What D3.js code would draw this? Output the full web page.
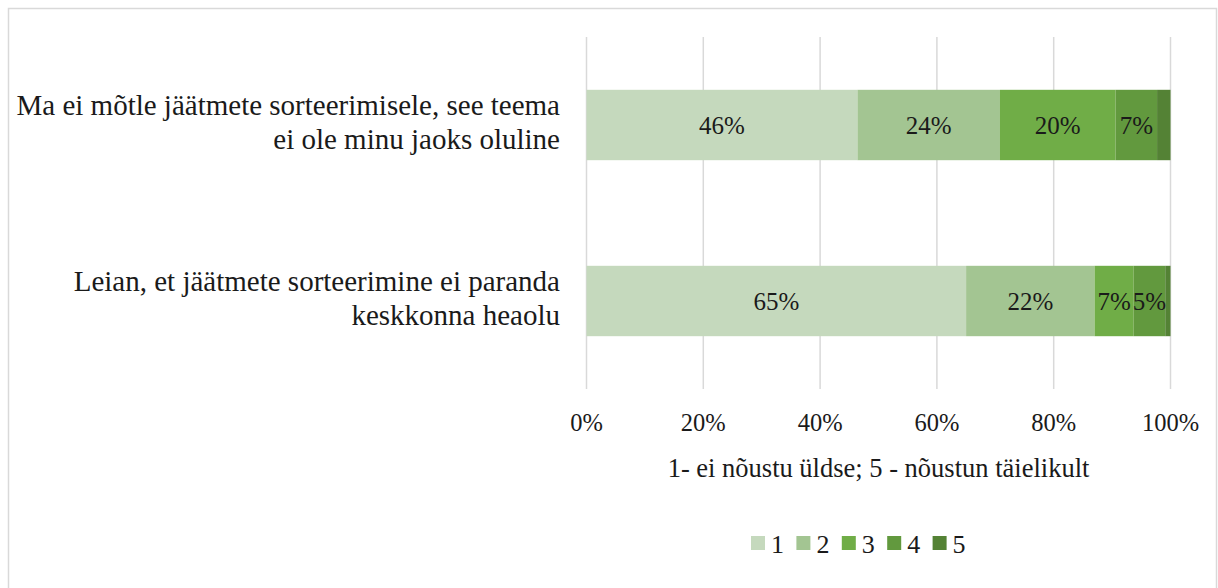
<!DOCTYPE html>
<html>
<head>
<meta charset="utf-8">
<script src="https://cdnjs.cloudflare.com/ajax/libs/d3/7.8.5/d3.min.js"></script>
<style>
  body { margin: 0; background: #fff; }
  svg text { font-family: "Liberation Serif", "Times New Roman", serif; fill: #1a1a1a; }
</style>
</head>
<body>
<div id="chart"></div>
<script>
// categories (top to bottom), each label split into lines
var categories = [
  ["Ma ei mõtle jäätmete sorteerimisele, see teema", "ei ole minu jaoks oluline"],
  ["Leian, et jäätmete sorteerimine ei paranda", "keskkonna heaolu"]
];
var seriesNames = ["1", "2", "3", "4", "5"];
// share of answers (%) per category, one entry per series
var values1 = [46.4, 24.4, 19.8, 7.1, 2.3];
var values2 = [65.0, 22.0, 6.7, 5.4, 0.9];
var xTicks = [0, 20, 40, 60, 80, 100];
var axisTitle = "1- ei nõustu üldse; 5 - nõustun täielikult";
var colors = ["#c5d9bd", "#a3c592", "#70ad47", "#62993e", "#548235"];

var W = 1218, H = 588;
var layout = { left: 586.5, right: 1170.5, top: 37, bottom: 389 };

var svg = d3.select("#chart").append("svg").attr("width", W).attr("height", H);

// outer border
svg.append("rect")
  .attr("x", 8.5).attr("y", 8.5).attr("width", 1208).attr("height", 600)
  .attr("fill", "none").attr("stroke", "#d9d9d9").attr("stroke-width", 1.5);

var x = d3.scaleLinear().domain([0, 100]).range([layout.left, layout.right]);
var y = d3.scaleBand().domain(d3.range(categories.length))
  .range([layout.top, layout.bottom]).paddingInner(0.6).paddingOuter(0.3);

// gridlines
svg.append("g").selectAll("line").data(xTicks).join("line")
  .attr("x1", function(d){ return x(d); }).attr("x2", function(d){ return x(d); })
  .attr("y1", layout.top).attr("y2", layout.bottom)
  .attr("stroke", "#d9d9d9").attr("stroke-width", 1.5);

// tick labels
svg.append("g").selectAll("text").data(xTicks).join("text")
  .attr("x", function(d){ return x(d); }).attr("y", 431)
  .attr("text-anchor", "middle").attr("font-size", 24.5)
  .text(function(d){ return d + "%"; });

// axis title
svg.append("text")
  .attr("x", (layout.left + layout.right) / 2).attr("y", 477)
  .attr("text-anchor", "middle").attr("font-size", 26.5)
  .text(axisTitle);

// stacked bars
var rows = [values1, values2];
rows.forEach(function(vals, i){
  var g = svg.append("g");
  var acc = 0;
  var segs = vals.map(function(v, k){
    var s = { k: k, v: v, x0: acc, x1: acc + v };
    acc += v;
    return s;
  });
  g.selectAll("rect").data(segs).join("rect")
    .attr("x", function(d){ return x(d.x0); })
    .attr("width", function(d){ return x(d.x1) - x(d.x0); })
    .attr("y", y(i)).attr("height", y.bandwidth())
    .attr("fill", function(d){ return colors[d.k]; });
  g.selectAll("text").data(segs.filter(function(d){ return d.v >= 3; })).join("text")
    .attr("x", function(d){ return (x(d.x0) + x(d.x1)) / 2; })
    .attr("y", y(i) + y.bandwidth() / 2 + 9)
    .attr("text-anchor", "middle").attr("font-size", 25)
    .text(function(d){ return Math.round(d.v) + "%"; });

  // category label
  var cy = y(i) + y.bandwidth() / 2;
  var lines = categories[i];
  var t = svg.append("text").attr("text-anchor", "end").attr("font-size", 29);
  lines.forEach(function(line, j){
    t.append("tspan")
      .attr("x", 560)
      .attr("y", cy + 6.5 + (j - (lines.length - 1) / 2) * 34)
      .text(line);
  });
});

// legend
var legend = svg.append("g");
seriesNames.forEach(function(name, k){
  var lx = 751 + k * 45.4;
  legend.append("rect").attr("x", lx).attr("y", 536).attr("width", 14).attr("height", 14)
    .attr("fill", colors[k]);
  legend.append("text").attr("x", lx + 20).attr("y", 553).attr("font-size", 26).text(name);
});
</script>
</body>
</html>
